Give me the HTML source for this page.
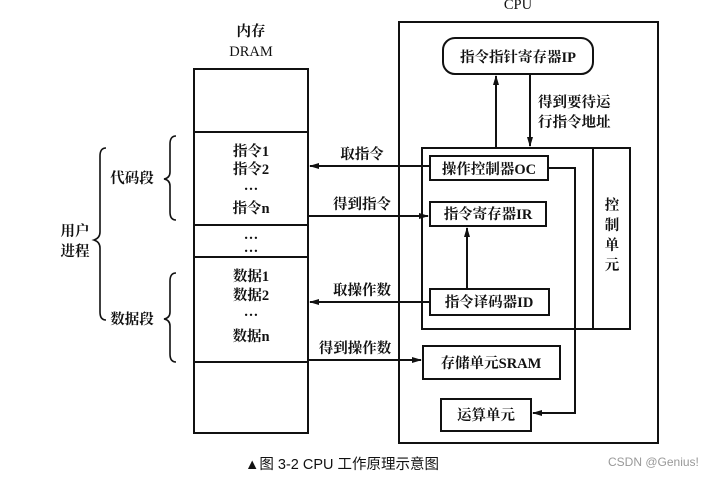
<!DOCTYPE html>
<html><head><meta charset="utf-8"><style>
body{margin:0;background:#fff;}
svg text{font-family:"Liberation Serif","Noto Serif CJK SC","Noto Sans CJK SC",serif;font-weight:bold;fill:#111;}
svg text.n{font-weight:normal;}
</style></head><body>
<svg width="714" height="476" viewBox="0 0 714 476" xmlns="http://www.w3.org/2000/svg">
<defs><marker id="a" markerWidth="10" markerHeight="8" refX="9" refY="4" orient="auto" markerUnits="userSpaceOnUse"><path d="M0,1 L10,4 L0,7z" fill="#111"/></marker></defs>
<g stroke="#111" stroke-width="2" fill="none">
<rect x="399" y="22" width="259" height="421"/>
<rect x="443" y="38" width="150" height="36" rx="12"/>
<line x1="496" y1="148" x2="496" y2="76" marker-end="url(#a)"/>
<line x1="530" y1="74" x2="530" y2="146" marker-end="url(#a)"/>
<rect x="422" y="148" width="208" height="181"/>
<line x1="593" y1="148" x2="593" y2="329"/>
<rect x="430" y="156" width="118" height="24"/>
<rect x="430" y="202" width="116" height="24"/>
<rect x="430" y="289" width="119" height="26"/>
<line x1="467" y1="289" x2="467" y2="228" marker-end="url(#a)"/>
<polyline points="548,168 575,168 575,413 533,413" marker-end="url(#a)"/>
<rect x="441" y="399" width="90" height="32"/>
<rect x="423" y="346" width="137" height="33"/>
<rect x="194" y="69" width="114" height="364"/>
<line x1="194" y1="132" x2="308" y2="132"/>
<line x1="194" y1="225" x2="308" y2="225"/>
<line x1="194" y1="257" x2="308" y2="257"/>
<line x1="194" y1="362" x2="308" y2="362"/>
<line x1="430" y1="166" x2="310" y2="166" marker-end="url(#a)"/>
<line x1="308" y1="216" x2="428" y2="216" marker-end="url(#a)"/>
<line x1="430" y1="302" x2="310" y2="302" marker-end="url(#a)"/>
<line x1="308" y1="360" x2="421" y2="360" marker-end="url(#a)"/>
<path d="M176,136 Q170,136 170,144 L170,172 Q170,178 164,179 Q170,180 170,186 L170,212 Q170,220 176,220" stroke-width="1.6"/>
<path d="M176,273 Q170,273 170,281 L170,312 Q170,318 164,319 Q170,320 170,326 L170,354 Q170,362 176,362" stroke-width="1.6"/>
<path d="M106,148 Q100,148 100,156 L100,232 Q100,238 94,240 Q100,242 100,248 L100,312 Q100,320 106,320" stroke-width="1.6"/>
</g>
<g font-size="14.5">
<text class="n" x="518" y="9" text-anchor="middle">CPU</text>
<text x="518" y="62" text-anchor="middle">指令指针寄存器IP</text>
<text x="538" y="107">得到要待运</text>
<text x="538" y="127">行指令地址</text>
<text x="489" y="174" text-anchor="middle">操作控制器OC</text>
<text x="488" y="219" text-anchor="middle">指令寄存器IR</text>
<text x="489" y="307" text-anchor="middle">指令译码器ID</text>
<text x="491" y="368" text-anchor="middle">存储单元SRAM</text>
<text x="486" y="420" text-anchor="middle">运算单元</text>
<text x="612" y="210" text-anchor="middle">控</text>
<text x="612" y="230" text-anchor="middle">制</text>
<text x="612" y="250" text-anchor="middle">单</text>
<text x="612" y="270" text-anchor="middle">元</text>
<text x="251" y="36" text-anchor="middle">内存</text>
<text class="n" x="251" y="56" text-anchor="middle">DRAM</text>
<text x="251" y="156" text-anchor="middle">指令1</text>
<text x="251" y="174" text-anchor="middle">指令2</text>
<text x="251" y="190" text-anchor="middle">…</text>
<text x="251" y="213" text-anchor="middle">指令n</text>
<text x="251" y="239" text-anchor="middle">…</text>
<text x="251" y="252" text-anchor="middle">…</text>
<text x="251" y="281" text-anchor="middle">数据1</text>
<text x="251" y="300" text-anchor="middle">数据2</text>
<text x="251" y="316" text-anchor="middle">…</text>
<text x="251" y="341" text-anchor="middle">数据n</text>
<text x="362" y="159" text-anchor="middle">取指令</text>
<text x="362" y="209" text-anchor="middle">得到指令</text>
<text x="362" y="295" text-anchor="middle">取操作数</text>
<text x="355" y="353" text-anchor="middle">得到操作数</text>
<text x="132" y="183" text-anchor="middle">代码段</text>
<text x="132" y="324" text-anchor="middle">数据段</text>
<text x="75" y="236" text-anchor="middle">用户</text>
<text x="75" y="256" text-anchor="middle">进程</text>
<text x="245" y="469" style="font-weight:normal;font-family:'Liberation Sans','Noto Sans CJK SC',sans-serif">▲图 3-2  CPU 工作原理示意图</text>
</g>
<text x="608" y="466" font-size="12" style="fill:#999;font-weight:normal;font-family:'Liberation Sans',sans-serif">CSDN @Genius!</text>
</svg>
</body></html>
